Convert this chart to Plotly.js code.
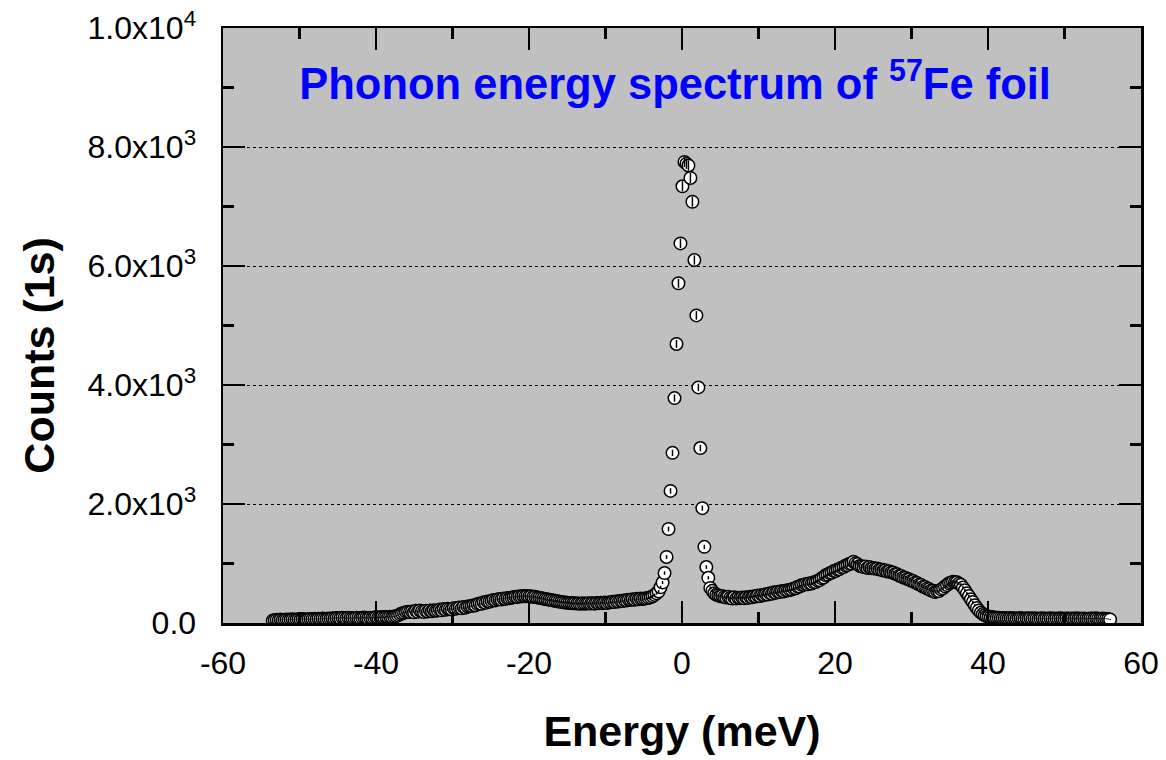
<!DOCTYPE html>
<html>
<head>
<meta charset="utf-8">
<script src="https://cdn.plot.ly/plotly-3.0.1.min.js"></script>
<style>
  html, body { margin: 0; padding: 0; background: #ffffff; }
  #chart { width: 1166px; height: 760px; }
</style>
</head>
<body>
<div id="chart"></div>
<script>
// Energy grid of the scan (meV): first point and step between points
const energyStart = -53.5;
const energyStep = 0.26;

// Counts, left wing (energy loss side)
const countsLeftWing = [
  40,48,55,52,58,50,56,60,54,58,
  62,55,60,64,58,66,60,57,63,68,
  64,70,66,72,68,74,70,66,75,72,
  78,74,82,86,80,90,84,78,88,82,
  80,86,90,84,78,88,92,85,80,90,
  86,92,98,90,95,100,94,102,98,105,
  100,108,115,128,145,160,172,182,190,185,
  195,180,205,188,210,195,185,206,192,210,
  198,214,205,212,226,214,235,222,240,236,
  228,250,238,256,262,246,270,258,276,282,
  286,300,296,318,326,322,348,340,362,358,
  372,388,380,396,402,395,412,405,420,415,
  425,432,440,436,448,444,452,448,455,446,
  450,438,442,430,425,418,410,402,398,390,
  385,378,372,366,360,355,350,345,340,338,
  335,330,332,326,328,322,330,325,328,332,
  326,334,325,338,330,340,334,344,336,346,
  348,356,352,364,360,372,368,382,378,392,
  388,400,392,406,398,410,404,412,416,422,
  432,450,472
];

// Elastic (zero-phonon) peak
const countsPeak = [
  500,530,600,680,840,1110,1580,2220,2860,3780,
  4690,5710,6380,7340,7750,7720,7690,7480,7080,6100,
  5170,3960,2940,1930,1280,940,760,590,540
];

// Right wing (energy gain side)
const countsRightWing = [
  500,475,465,450,455,435,428,440,
  420,412,432,410,425,418,428,415,432,422,
  440,432,450,445,462,452,472,468,485,478,
  500,492,515,508,525,520,538,530,548,545,
  558,562,580,585,610,612,638,640,655,650,
  668,662,685,688,712,720,752,765,802,815,
  838,845,872,875,900,905,930,940,965,972,
  995,1000,1030,1005,990,960,955,940,948,925,
  940,920,925,912,918,898,900,882,885,865,
  868,850,848,825,820,795,790,765,762,740,
  735,710,705,680,672,645,638,610,605,580,
  570,545,540,520,532,538,565,582,615,638,
  668,678,695,688,684,662,642,598,552,498,
  452,398,352,298,252,210,175,150,130,115,
  108,102,98,92,90,88,85,82,84,80,
  78,82,76,80,74,78,82,76,72,78,
  75,80,72,78,74,70,76,80,73,77,
  72,78,74,70,76,73,79,75,71,76,
  74,70,77,73,78,72,75,70,76,73,
  71,76,74,70,78,73,69,75,72,70,66,60
];

// Axis ticks
const yTickVals = [0, 2000, 4000, 6000, 8000, 10000];
const yTickText = ['0.0', '2.0x10<sup>3</sup>', '4.0x10<sup>3</sup>', '6.0x10<sup>3</sup>', '8.0x10<sup>3</sup>', '1.0x10<sup>4</sup>'];
const xTickVals = [-60, -40, -20, 0, 20, 40, 60];
const xTickText = ['-60', '-40', '-20', '0', '20', '40', '60'];

const titleText = 'Phonon energy spectrum of <sup>57</sup>Fe foil';
const xTitle = 'Energy (meV)';
const yTitle = 'Counts (1s)';

const counts = countsLeftWing.concat(countsPeak, countsRightWing);

const FONT = 'Liberation Sans, Arial, Helvetica, sans-serif';

const markerTrace = {
  type: 'scatter',
  mode: 'markers',
  x0: energyStart,
  dx: energyStep,
  y: counts,
  marker: {
    symbol: 'circle',
    size: 12.5,
    color: '#ffffff',
    line: { color: '#000000', width: 1.5 }
  },
  hoverinfo: 'x+y',
  showlegend: false
};

// statistical error bars drawn over the circles
const errorTrace = {
  type: 'scatter',
  mode: 'markers',
  x0: energyStart,
  dx: energyStep,
  y: counts,
  marker: { size: 12.5, color: 'rgba(0,0,0,0)', line: { width: 0 } },
  error_y: { type: 'sqrt', visible: true, color: '#000000', thickness: 1.5, width: 0 },
  hoverinfo: 'skip',
  showlegend: false
};

const axisCommon = {
  showline: true,
  linecolor: '#000000',
  linewidth: 2.5,
  mirror: 'allticks',
  ticks: 'inside',
  ticklen: 22,
  tickwidth: 2.5,
  tickcolor: '#000000',
  zeroline: false,
  tickfont: { family: FONT, size: 32, color: '#000000' }
};

const layout = {
  width: 1166,
  height: 760,
  paper_bgcolor: '#ffffff',
  plot_bgcolor: '#c0c0c0',
  margin: { l: 223, r: 25, t: 28, b: 137 },
  showlegend: false,
  title: {
    text: titleText,
    font: { family: FONT, size: 43.5, color: '#0000ff', weight: 'bold' },
    xref: 'container', yref: 'container',
    x: 0.579, y: 0.89, xanchor: 'center', yanchor: 'middle'
  },
  xaxis: Object.assign({}, axisCommon, {
    range: [-60, 60],
    tickmode: 'array',
    tickvals: xTickVals,
    ticktext: xTickText,
    showgrid: false,
    ticklabelstandoff: 10,
    minor: { dtick: 10, tick0: 0, ticks: 'inside', ticklen: 11, tickwidth: 2.5, tickcolor: '#000000', showgrid: false },
    title: { text: xTitle, font: { family: FONT, size: 43, color: '#000000', weight: 'bold' }, standoff: 36 }
  }),
  yaxis: Object.assign({}, axisCommon, {
    range: [0, 10000],
    tickmode: 'array',
    tickvals: yTickVals,
    ticktext: yTickText,
    showgrid: true,
    gridcolor: '#000000',
    gridwidth: 1,
    griddash: 'dot',
    ticklabelstandoff: 18,
    minor: { dtick: 1000, tick0: 0, ticks: 'inside', ticklen: 11, tickwidth: 2.5, tickcolor: '#000000', showgrid: false }
  }),
  annotations: [{
    text: yTitle,
    textangle: -90,
    xref: 'paper', yref: 'paper',
    x: -0.2, y: 0.45,
    xanchor: 'center', yanchor: 'middle',
    showarrow: false,
    font: { family: FONT, size: 43, color: '#000000', weight: 'bold' }
  }]
};

Plotly.newPlot('chart', [markerTrace, errorTrace], layout, { displayModeBar: false, staticPlot: true });
</script>
</body>
</html>
